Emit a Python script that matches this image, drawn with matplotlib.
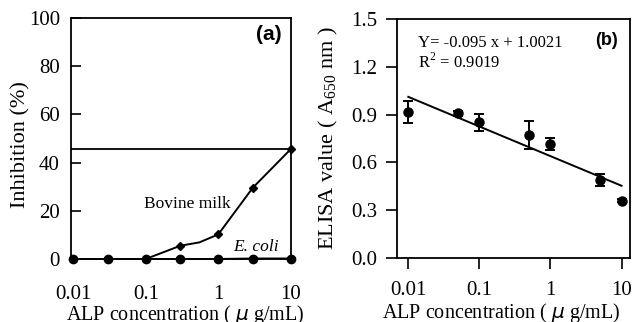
import matplotlib
matplotlib.use("Agg")
import matplotlib.pyplot as plt
import numpy as np

plt.rcParams['font.family'] = ['Liberation Serif', 'DejaVu Serif']
plt.rcParams['mathtext.fontset'] = 'custom'
plt.rcParams['mathtext.rm'] = 'Liberation Serif'

# panel (a): inhibition vs ALP concentration
conc_a = [0.01, 0.03, 0.1, 0.3, 1, 3, 10]
ecoli = [0, 0, 0, 0, 0, 0.2, 0.2]
# bovine milk line has an extra (unmarked) vertex near 0.55
milk_x = [0.01, 0.03, 0.1, 0.3, 0.55, 1, 3, 10]
milk_y = [0, 0, 0, 5.5, 6.9, 10.2, 29.6, 45.6]
milk_marked = [0, 1, 2, 3, 5, 6, 7]
plateau = 45.6

# panel (b): ELISA value vs ALP concentration
conc_b = [0.01, 0.05, 0.1, 0.5, 1, 5, 10]
elisa = [0.918, 0.908, 0.852, 0.772, 0.717, 0.491, 0.359]
elisa_err = [0.067, 0.014, 0.053, 0.087, 0.037, 0.038, 0.01]

xt = [0.01, 0.1, 1, 10]
xt_labels = ['0.01', '0.1', '1', '10']
xlab = 'ALP concentration ( $\\mu$ g/mL)'

fig = plt.figure(figsize=(6.32, 3.22), dpi=100)
ax1 = fig.add_axes([0.1123, 0.1957, 0.348, 0.748])
ax2 = fig.add_axes([0.6277, 0.1997, 0.369, 0.740])

for ax in (ax1, ax2):
    for s in ax.spines.values():
        s.set_linewidth(1.3)

# ---- (a)
ax1.axhline(plateau, color='k', lw=1.3)
ax1.plot(conc_a, ecoli, color='k', lw=1.4, marker='o', ms=6, clip_on=False, zorder=4)
ax1.plot(milk_x, milk_y, color='k', lw=1.4, marker='D', ms=4.5, markevery=milk_marked,
         clip_on=False, zorder=5)
ax1.set_xscale('log')
ax1.set_xlim(0.0093, 10.05)
ax1.set_ylim(0, 100)
ax1.set_yticks([0, 20, 40, 60, 80, 100])
ax1.set_xticks(xt)
ax1.set_xticklabels(xt_labels)
ax1.xaxis.set_minor_locator(matplotlib.ticker.NullLocator())
ax1.tick_params(axis='both', direction='in', width=1.2, labelsize=15)
ax1.tick_params(axis='y', length=7, pad=8)
ax1.tick_params(axis='x', length=0, pad=19)
ax1.set_ylabel('Inhibition (%)', fontsize=16)
ax1.yaxis.set_label_coords(-0.186, 0.473)
ax1.set_xlabel(xlab, fontsize=14.5)
ax1.xaxis.set_label_coords(0.52, -0.182)
ax1.text(0.9, 0.93, '(a)', transform=ax1.transAxes, fontsize=15, fontweight='bold',
         family='Liberation Sans', ha='center', va='center')
ax1.text(0.53, 0.23, 'Bovine milk', transform=ax1.transAxes, fontsize=12.5,
         ha='center', va='center')
ax1.text(0.84, 0.05, 'E. coli', transform=ax1.transAxes, fontsize=12.5, style='italic',
         ha='center', va='center')

# ---- (b)
ax2.errorbar(conc_b, elisa, yerr=elisa_err, fmt='o', color='k', ms=6.5, capsize=3.8,
             elinewidth=1.4, capthick=1.4, zorder=4)
logx = np.log10(conc_b)
slope, icpt = np.polyfit(logx, elisa, 1)
fit_x = np.array([conc_b[0], conc_b[-1]])
ax2.plot(fit_x, icpt + slope * np.log10(fit_x), color='k', lw=1.4)
ax2.set_xscale('log')
ax2.set_xlim(0.00687, 13.1)
ax2.set_ylim(0, 1.5)
ax2.set_yticks([0.0, 0.3, 0.6, 0.9, 1.2, 1.5])
ax2.set_yticklabels(['0.0', '0.3', '0.6', '0.9', '1.2', '1.5'])
ax2.set_xticks(xt)
ax2.set_xticklabels(xt_labels)
ax2.xaxis.set_minor_locator(matplotlib.ticker.NullLocator())
ax2.tick_params(axis='both', direction='out', length=8, width=1.2, labelsize=15)
ax2.tick_params(axis='y', pad=6)
ax2.tick_params(axis='x', pad=9)
ax2.set_ylabel('ELISA value ( A$_{650}$ nm )', fontsize=16)
ax2.yaxis.set_label_coords(-0.245, 0.5)
ax2.set_xlabel(xlab, fontsize=14.5)
ax2.xaxis.set_label_coords(0.447, -0.182)
ax2.text(0.09, 0.90, 'Y= -0.095 x + 1.0021', transform=ax2.transAxes, fontsize=12,
         ha='left', va='center')
ax2.text(0.09, 0.82, 'R$^2$ = 0.9019', transform=ax2.transAxes, fontsize=12,
         ha='left', va='center')
ax2.text(0.9, 0.91, '(b)', transform=ax2.transAxes, fontsize=13, fontweight='bold',
         family='Liberation Sans', ha='center', va='center')

fig.savefig('out.png', dpi=100)
